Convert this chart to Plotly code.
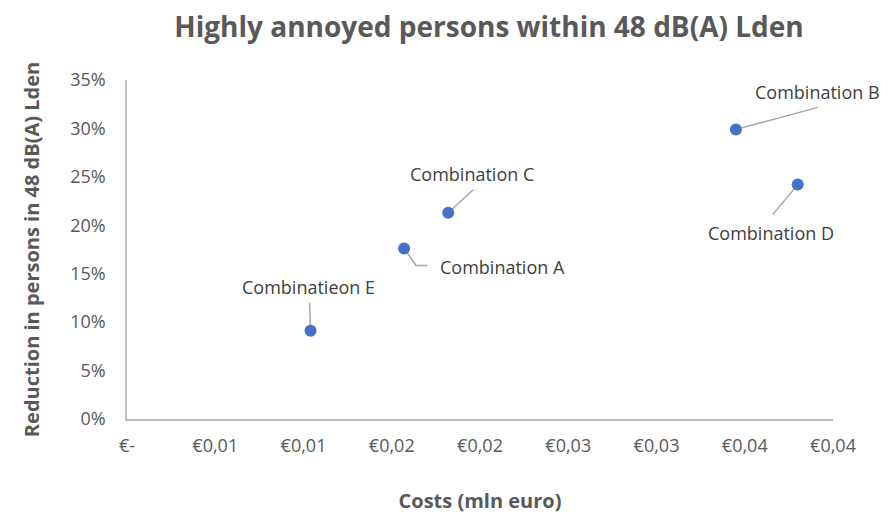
import plotly.graph_objects as go

# Data (costs in mln euro, reduction as fraction)
names = ["Combination A", "Combination B", "Combination C", "Combination D", "Combinatieon E"]
costs = [0.0157, 0.0345, 0.0182, 0.0380, 0.0104]
reduction = [0.176, 0.299, 0.213, 0.242, 0.091]

x_tickvals = [0, 0.005, 0.01, 0.015, 0.02, 0.025, 0.03, 0.035, 0.04]
x_ticktext = ["€-", "€0,01", "€0,01", "€0,02", "€0,02", "€0,03", "€0,03", "€0,04", "€0,04"]
y_tickvals = [0, 0.05, 0.10, 0.15, 0.20, 0.25, 0.30, 0.35]

# label offsets (px, y up) and leader paths relative to each point
label_shift = {
    "Combination A": (98, -18),
    "Combination B": (82, 37),
    "Combination C": (24, 39),
    "Combination D": (-27, -48),
    "Combinatieon E": (-2, 44),
}
leader_path = {
    "Combination A": "M 0 0 L 12 -17 L 23 -17",
    "Combination B": "M 0 0 L 82 22",
    "Combination C": "M 0 0 L 25 23",
    "Combination D": "M 0 0 L -25 -30",
    "Combinatieon E": "M 0 0 L -1 28",
}

FONT = "Open Sans"
GREY = "#595959"

fig = go.Figure(go.Scatter(
    x=costs, y=reduction, mode="markers",
    marker=dict(color="#4472C4", size=12),
    hoverinfo="skip",
))

for n, cx, cy in zip(names, costs, reduction):
    dx, dy = label_shift[n]
    fig.add_annotation(x=cx, y=cy, text=n, showarrow=False,
                       xshift=dx, yshift=dy,
                       font=dict(family=FONT, size=18, color="#404040"))
    fig.add_shape(type="path", xref="x", yref="y",
                  xsizemode="pixel", ysizemode="pixel",
                  xanchor=cx, yanchor=cy, path=leader_path[n],
                  line=dict(color="#a6a6a6", width=1.5), layer="below")

# page body has an 8px margin, so the figure is a bit smaller than the window
fig.update_layout(
    width=881, height=520,
    margin=dict(l=119, r=56, t=72, b=109, autoexpand=False),
    paper_bgcolor="white", plot_bgcolor="white",
    showlegend=False,
    title=dict(text="<b>Highly annoyed persons within 48 dB(A) Lden</b>",
               x=0.546, xanchor="center", y=0.963, yanchor="middle",
               font=dict(family=FONT, size=28, color=GREY)),
    font=dict(family=FONT, color=GREY),
)

fig.update_xaxes(
    range=[0, 0.04], tickvals=x_tickvals, ticktext=x_ticktext, automargin=False,
    showgrid=False, zeroline=False, showline=True, linecolor="#bfbfbf", linewidth=1.5,
    ticks="", ticklabelstandoff=10,
    tickfont=dict(family=FONT, size=18, color=GREY),
    title=dict(text="<b>Costs (mln euro)</b>", standoff=38,
               font=dict(family=FONT, size=20, color=GREY)),
)
fig.update_yaxes(
    range=[0, 0.35], tickvals=y_tickvals, tickformat=".0%", automargin=False,
    showgrid=False, zeroline=False, showline=True, linecolor="#bfbfbf", linewidth=1.5,
    ticks="", ticklabelstandoff=16,
    tickfont=dict(family=FONT, size=18, color=GREY),
    title=dict(text="<b>Reduction in persons in 48 dB(A) Lden</b>", standoff=25,
               font=dict(family=FONT, size=20, color=GREY)),
)

fig.write_html("out.html")
